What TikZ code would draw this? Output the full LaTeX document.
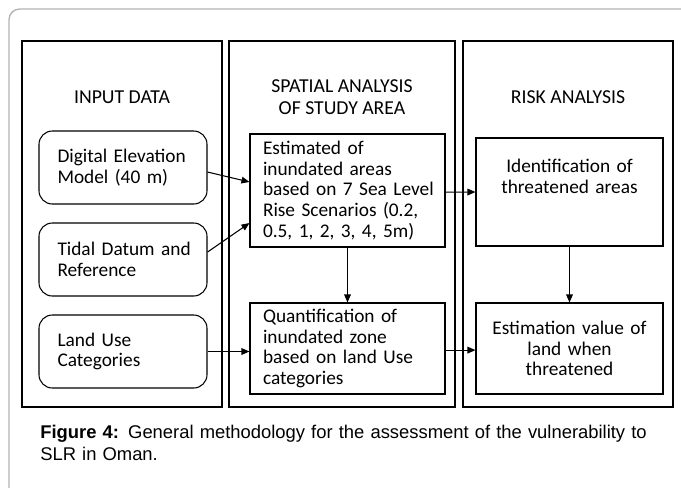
\documentclass[tikz,border=0pt]{standalone}
\usepackage{fontspec}
\setmainfont{Carlito}
\newfontfamily\capfont{Liberation Sans}
\usetikzlibrary{arrows.meta}
\newcommand\jline[2]{\makebox[#1][s]{#2}}
\begin{document}
\begin{tikzpicture}[x=0.75pt,y=-0.75pt,
  colbox/.style={draw=black, line width=0.8pt},
  ibox/.style={draw=black, line width=0.8pt, inner sep=0pt, font=\fontsize{14.5}{15.6}\selectfont},
  rbox/.style={ibox, rounded corners=10pt, minimum width=126pt, minimum height=54.75pt, text width=98.25pt, align=left},
  head/.style={font=\fontsize{14.8}{16}\selectfont, align=center, inner sep=0pt},
  arr/.style={-{Triangle[length=6pt,width=5pt]}, line width=0.8pt}]
\clip (0,0) rectangle (681,487);
\useasboundingbox (0,0) rectangle (681,487);
\draw[black!30, line width=1pt, rounded corners=8] (9,9) rectangle (720,530);
% columns
\draw[colbox] (22,41) rectangle (222,407);
\draw[colbox] (229,41) rectangle (455,407);
\draw[colbox] (463,41) rectangle (673,407);
\node[head] (h1) at (122,97) {INPUT DATA};
\node[head] (h2) at (342,97) {SPATIAL ANALYSIS\\OF STUDY AREA};
\node[head] (h3) at (568,97) {RISK ANALYSIS};
% input boxes
\node[rbox] (dem) at (123,167.5) {\jline{98.25pt}{Digital Elevation}\\Model (40 m)};
\node[rbox] (tid) at (123,259.5) {\jline{98.25pt}{Tidal Datum and}\\Reference};
\node[rbox] (land) at (123,351.5) {Land Use\\Categories};
% spatial
\node[ibox, minimum width=146.25pt, minimum height=84.75pt, text width=126.75pt, align=left] (est) at (347.5,190.5)
  {Estimated of\\\jline{126.75pt}{inundated areas}\\\jline{126.75pt}{based on 7 Sea Level}\\\jline{126.75pt}{Rise Scenarios (0.2,}\\0.5, 1, 2, 3, 4, 5m)};
\node[ibox, minimum width=146.25pt, minimum height=68.25pt, text width=126.75pt, align=left] (quant) at (347.5,348.5)
  {Quantification of\\inundated zone\\\jline{126.75pt}{based on land Use}\\categories};
% risk
\node[ibox, minimum width=140.25pt, minimum height=81pt, text width=130pt, align=center] (ident) at (569.5,192)
  {Identification of\\threatened areas\\[8.5pt]\mbox{}};
\node[ibox, minimum width=140.25pt, minimum height=68.25pt, text width=130pt, align=center] (estim) at (569.5,348.5)
  {Estimation value of\\land when\\threatened};
% arrows
\draw[arr] ([yshift=-3.4pt]dem.east) -- ([yshift=6.4pt]est.west);
\draw[arr] ([yshift=5.6pt]tid.east) -- ([yshift=-24.4pt]est.west);
\draw[arr] (land.east) -- (land.east -| quant.west);
\draw[arr] ([yshift=-1.2pt]est.east) -- ([yshift=0pt]ident.west);
\draw[arr] ([yshift=-1.2pt]quant.east) -- ([yshift=-1.2pt]estim.west);
\draw[arr] (est.south) -- (quant.north);
\draw[arr] (ident.south) -- (estim.north);
% caption
\node[anchor=north west, inner sep=0pt, text width=466.5pt, align=left,
  font=\capfont\fontsize{13.8}{16.5}\selectfont] (cap) at (40,425)
  {\jline{466.5pt}{\textbf{Figure 4:} General methodology for the assessment of the vulnerability to}\\SLR in Oman.};
\end{tikzpicture}
\end{document}
